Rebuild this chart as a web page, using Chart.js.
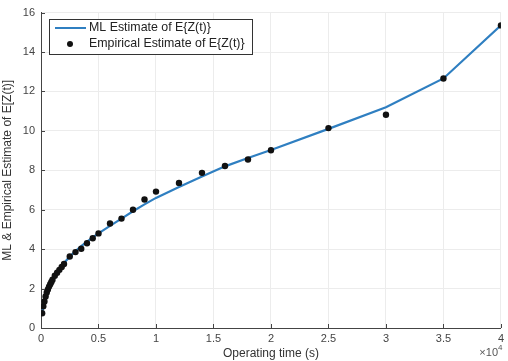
<!DOCTYPE html>
<html>
<head>
<meta charset="utf-8">
<script src="https://cdn.jsdelivr.net/npm/chart.js@4"></script>
<style>
  body { margin: 0; background: #fff; }
  #wrap { width: 508px; height: 361px; }
</style>
</head>
<body>
<div id="wrap"><canvas id="chart" width="508" height="361"></canvas></div>
<script>
// operating time (s)
var times = [100, 200, 300, 400, 500, 600, 700, 800, 900, 1000, 1200, 1400, 1600, 1800, 2000,
    2500, 3000, 3500, 4000, 4500, 5000, 6000, 7000, 8000, 9000, 10000, 12000, 14000, 16000,
    18000, 20000, 25000, 30000, 35000, 40000];
var mlEstimate = [0.75, 1.08, 1.33, 1.55, 1.73, 1.9, 2.05, 2.18, 2.31, 2.43, 2.64, 2.83, 3.0, 3.16, 3.3,
    3.62, 3.9, 4.15, 4.38, 4.6, 4.8, 5.18, 5.55, 5.92, 6.27, 6.6, 7.15, 7.68, 8.2,
    8.62, 9.03, 10.1, 11.2, 12.66, 15.35];
var empirical = [0.75, 1.1, 1.35, 1.6, 1.8, 1.95, 2.1, 2.22, 2.33, 2.45, 2.65, 2.8, 2.95, 3.1, 3.25,
    3.63, 3.85, 4.02, 4.3, 4.55, 4.8, 5.3, 5.55, 6.0, 6.52, 6.92, 7.36, 7.87, 8.22,
    8.55, 9.02, 10.14, 10.82, 12.66, 15.35];
var xTicks = [0, 5000, 10000, 15000, 20000, 25000, 30000, 35000, 40000];
var yTicks = [0, 2, 4, 6, 8, 10, 12, 14, 16];
var legendLabels = ['ML Estimate of E{Z(t)}', 'Empirical Estimate of E{Z(t)}'];

var fontName = '"Liberation Sans", Arial, sans-serif';

function toPoints(xs, ys) {
    var pts = [];
    for (var i = 0; i < xs.length; i++) {
        pts.push({x: xs[i], y: ys[i]});
    }
    return pts;
}

var extras = {
    id: 'extras',
    afterDraw: function (chart) {
        var ctx = chart.ctx;
        var area = chart.chartArea;
        ctx.save();
        // exponent label at bottom right
        ctx.fillStyle = '#555';
        ctx.font = '11px ' + fontName;
        ctx.textAlign = 'right';
        ctx.textBaseline = 'alphabetic';
        ctx.fillText('\u00d710', 498, 356);
        ctx.font = '8px ' + fontName;
        ctx.textAlign = 'left';
        ctx.fillText('4', 498, 350);

        // legend box
        var bx = 49, by = 19, bw = 203, bh = 35;
        ctx.fillStyle = '#fff';
        ctx.fillRect(bx, by, bw, bh);
        ctx.strokeStyle = '#333';
        ctx.lineWidth = 1;
        ctx.strokeRect(bx + 0.5, by + 0.5, bw, bh);

        var ds0 = chart.data.datasets[0];
        ctx.strokeStyle = ds0.borderColor;
        ctx.lineWidth = 2;
        ctx.beginPath();
        ctx.moveTo(55, 28);
        ctx.lineTo(86, 28);
        ctx.stroke();

        var ds1 = chart.data.datasets[1];
        ctx.fillStyle = ds1.backgroundColor;
        ctx.beginPath();
        ctx.arc(70, 44, 3, 0, Math.PI * 2);
        ctx.fill();

        ctx.fillStyle = '#222';
        ctx.font = '12.4px ' + fontName;
        ctx.textBaseline = 'middle';
        ctx.textAlign = 'left';
        ctx.fillText(legendLabels[0], 89, 28);
        ctx.fillText(legendLabels[1], 89, 44);

        // inward tick marks like the reference
        ctx.strokeStyle = '#444';
        ctx.lineWidth = 1;
        var xs = chart.scales.x, ys = chart.scales.y;
        xTicks.forEach(function (v) {
            var px = Math.round(xs.getPixelForValue(v)) + 0.5;
            ctx.beginPath();
            ctx.moveTo(px, area.bottom);
            ctx.lineTo(px, area.bottom - 4);
            ctx.stroke();
        });
        yTicks.forEach(function (v) {
            var py = Math.round(ys.getPixelForValue(v)) + 0.5;
            ctx.beginPath();
            ctx.moveTo(area.left, py);
            ctx.lineTo(area.left + 4, py);
            ctx.stroke();
        });
        ctx.restore();
    }
};

var ctx = document.getElementById('chart').getContext('2d');
var chart = new Chart(ctx, {
    type: 'scatter',
    data: {
        datasets: [{
                label: legendLabels[0],
                data: toPoints(times, mlEstimate),
                showLine: true,
                borderColor: '#2f7fc1',
                backgroundColor: '#2f7fc1',
                borderWidth: 2.2,
                pointRadius: 0,
                tension: 0,
                order: 2
            }, {
                label: legendLabels[1],
                data: toPoints(times, empirical),
                showLine: false,
                borderColor: '#111',
                backgroundColor: '#111',
                pointRadius: 3.2,
                pointBorderWidth: 0,
                order: 1
            }]
    },
    options: {
        responsive: false,
        animation: false,
        layout: {padding: {top: 10, right: 7, left: 0, bottom: 0}},
        plugins: {
            legend: {display: false},
            tooltip: {enabled: false}
        },
        scales: {
            x: {
                type: 'linear',
                min: 0,
                max: 40000,
                afterBuildTicks: function (axis) {
                    axis.ticks = xTicks.map(function (v) { return {value: v}; });
                },
                afterFit: function (axis) { axis.height = 33; },
                ticks: {
                    color: '#444',
                    font: {size: 11, family: fontName},
                    padding: 4,
                    maxRotation: 0,
                    callback: function (v) { return String(v / 10000); }
                },
                grid: {color: '#ececec', drawTicks: false},
                border: {color: '#444'},
                title: {
                    display: true,
                    text: 'Operating time (s)',
                    color: '#333',
                    font: {size: 12, family: fontName},
                    padding: {top: 0, bottom: 0}
                }
            },
            y: {
                min: 0,
                max: 16,
                afterBuildTicks: function (axis) {
                    axis.ticks = yTicks.map(function (v) { return {value: v}; });
                },
                afterFit: function (axis) { axis.width = 41; },
                ticks: {
                    color: '#444',
                    font: {size: 11, family: fontName},
                    padding: 6
                },
                grid: {color: '#ececec', drawTicks: false},
                border: {color: '#444'},
                title: {
                    display: true,
                    text: 'ML & Empirical Estimate of E[Z(t)]',
                    color: '#333',
                    font: {size: 12, family: fontName},
                    padding: {top: 0, bottom: 2}
                }
            }
        }
    },
    plugins: [extras]
});
</script>
</body>
</html>
